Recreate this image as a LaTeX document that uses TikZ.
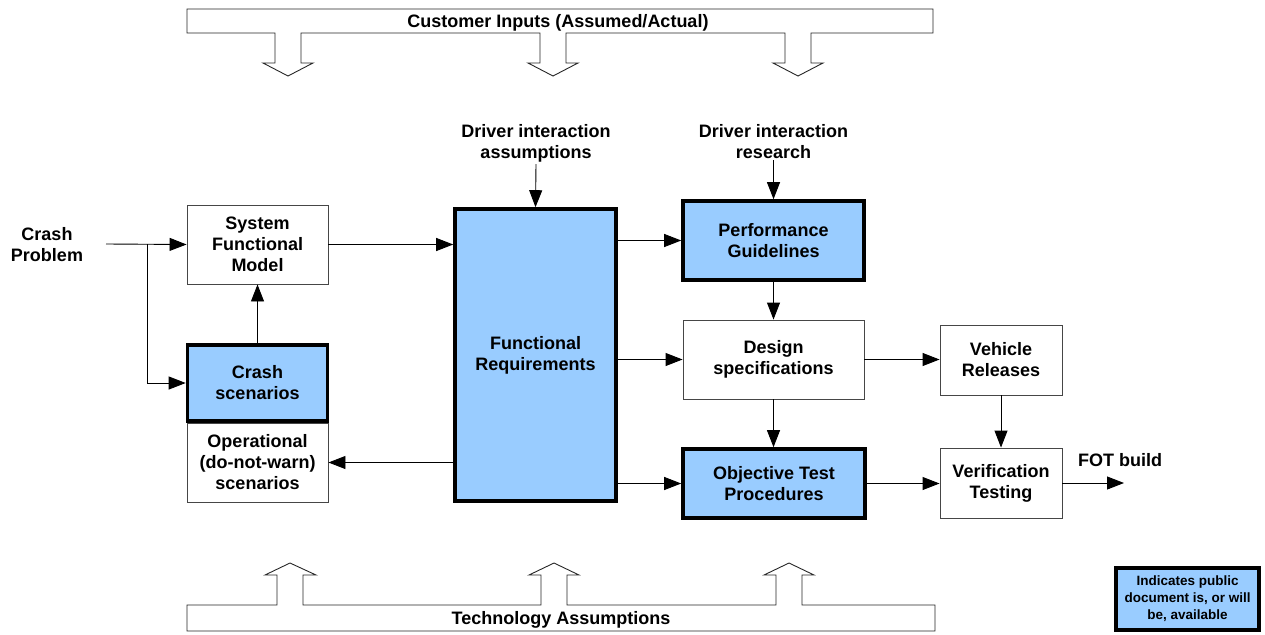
\documentclass[tikz,border=0pt]{standalone}
\usepackage{fontspec}
\setmainfont{Liberation Sans}
\usetikzlibrary{arrows.meta}
\definecolor{docblue}{RGB}{153,204,255}
\definecolor{thinedge}{RGB}{70,70,70}
\tikzset{
  txt/.style={font=\fontsize{18}{21}\selectfont\bfseries, align=center, inner sep=0pt},
  thinbox/.style={txt, draw=thinedge, line width=0.9pt, fill=white, rectangle},
  docbox/.style={txt, draw=black, line width=3.6pt, fill=docblue, rectangle},
  arr/.style={draw=black, line width=0.9pt, -{Triangle[length=17pt,width=13pt]}},
  banner/.style={draw=black!85, line width=0.9pt, line join=miter}
}
\begin{document}
\begin{tikzpicture}[x=1pt,y=-1pt]
\useasboundingbox (0,0) rectangle (1265,634);
% top banner
\draw[banner] (187,9) -- (933,9) -- (933,33) -- (811,33) -- (811,63) -- (823,63) -- (798,76) -- (773,63) -- (785,63) -- (785,33)
  -- (566,33) -- (566,63) -- (578,63) -- (553,76) -- (528,63) -- (540,63) -- (540,33)
  -- (301,33) -- (301,63) -- (313,63) -- (288,76) -- (263,63) -- (275,63) -- (275,33) -- (187,33) -- cycle;
\node[txt, anchor=base] (cust) at (558,27.5) {Customer Inputs (Assumed/Actual)};
% bottom banner
\draw[banner] (187,631) -- (935,631) -- (935,605) -- (802,605) -- (802,575) -- (814,575) -- (789,563) -- (764,575) -- (776,575) -- (776,605)
  -- (567,605) -- (567,575) -- (579,575) -- (554,563) -- (529,575) -- (541,575) -- (541,605)
  -- (303,605) -- (303,575) -- (316,575) -- (290,563) -- (265,575) -- (277,575) -- (277,605) -- (187,605) -- cycle;
\node[txt, anchor=base] (tech) at (561,624.5) {Technology Assumptions};

% nodes
\node[txt] (cp) at (47,245) {Crash\\Problem};
\coordinate (cpstart) at (106,244);
\coordinate (cpbranch) at (147,244);
\node[thinbox, minimum width=141pt, minimum height=79pt] (sfm) at (257.5,244.5) {System\\Functional\\Model};
\node[docbox, minimum width=140pt, minimum height=76pt] (crash) at (257.5,383) {Crash\\scenarios};
\node[thinbox, minimum width=141pt, minimum height=79pt] (op) at (257.5,462.5) {Operational\\(do-not-warn)\\scenarios};
\node[docbox, minimum width=161pt, minimum height=292pt] (fr) at (535.5,355) {Functional\\Requirements};
\node[txt, inner sep=2pt] (dia) at (536,143) {Driver interaction\\assumptions};
\node[txt, inner sep=1pt] (dir) at (773.5,142) {Driver interaction\\research};
\node[docbox, minimum width=181pt, minimum height=79pt] (pg) at (773.5,240.5) {Performance\\Guidelines};
\node[thinbox, minimum width=181pt, minimum height=79pt] (ds) at (773.5,359.5) {Design\\specifications};
\node[docbox, minimum width=182pt, minimum height=69pt] (otp) at (774,483.5) {Objective Test\\Procedures};
\node[thinbox, minimum width=122pt, minimum height=70pt] (vr) at (1001,360) {Vehicle\\Releases};
\node[thinbox, minimum width=122pt, minimum height=70pt] (vt) at (1001,483) {Verification\\Testing};
\node[txt, anchor=base west] (fot) at (1078,466) {FOT build};
\coordinate (fotend) at (1124,483);
\node[docbox, minimum width=143pt, minimum height=62pt, font=\fontsize{13.5}{17}\selectfont\bfseries] (legend) at (1187.5,599) {Indicates public\\document is, or will\\be, available};

% connectors
\draw[arr] (cpstart) -- (sfm.west);
\draw[arr] (cpbranch) |- (crash.west);
\draw[arr] (crash.north) -- (sfm.south);
\draw[arr] (sfm.east) -- (sfm.east -| fr.west);
\draw[arr] (op.east -| fr.west) -- (op.east);
\draw[arr] (dia.south) -- (fr.north);
\draw[arr] (dir.south) -- (pg.north);
\draw[arr] (pg.west -| fr.east) -- (pg.west);
\draw[arr] (ds.west -| fr.east) -- (ds.west);
\draw[arr] (otp.west -| fr.east) -- (otp.west);
\draw[arr] (pg.south) -- (ds.north);
\draw[arr] (ds.south) -- (ds.south |- otp.north);
\draw[arr] (ds.east) -- (ds.east -| vr.west);
\draw[arr] (otp.east) -- (otp.east -| vt.west);
\draw[arr] (vr.south) -- (vt.north);
\draw[arr] (vt.east) -- (fotend);
\end{tikzpicture}
\end{document}
